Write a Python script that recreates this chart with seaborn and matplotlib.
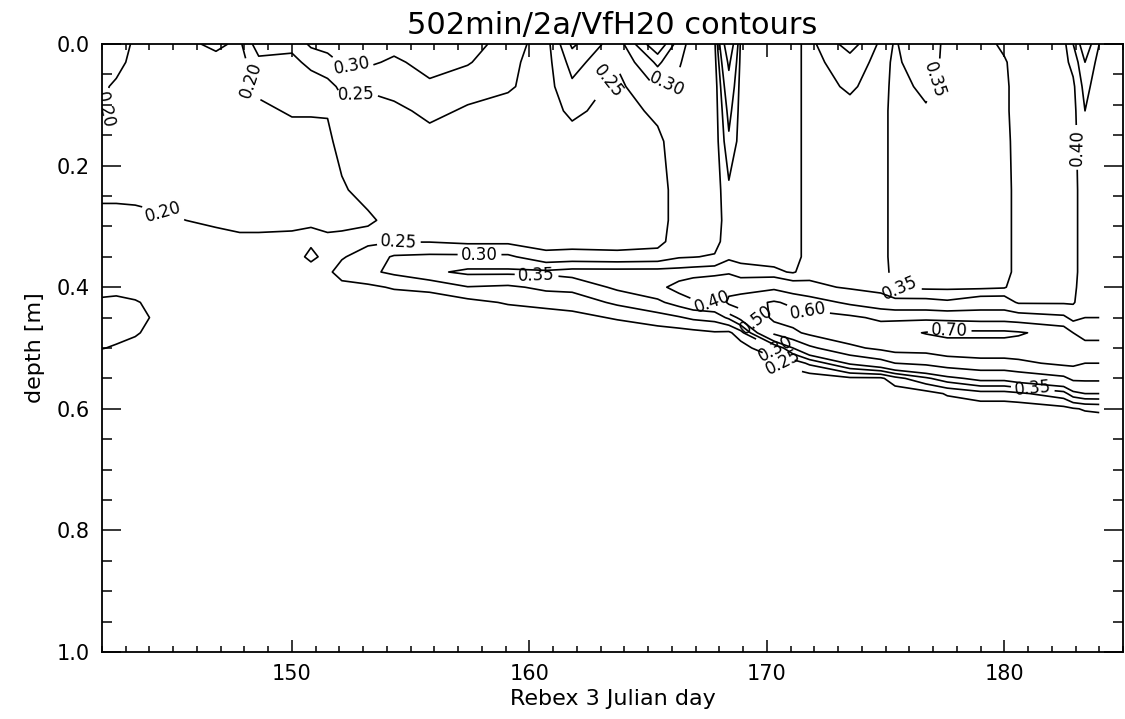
import numpy as np
import matplotlib
matplotlib.use("Agg")
import matplotlib.pyplot as plt
from matplotlib.ticker import MultipleLocator, FormatStrFormatter
import seaborn as sns

# --- data (VfH2O by day and depth) ---
depths = [0.00, 0.03, 0.07, 0.11, 0.16, 0.24, 0.29, 0.325, 0.35, 0.375, 0.40,
          0.425, 0.45, 0.475, 0.50, 0.525, 0.55, 0.575, 0.60, 0.625, 0.70, 1.00]

# early period: dry top layer, small wet lens at depth on the left edge
days_a = [142.0, 142.6, 143.4, 144.9, 146.8, 147.8, 148.6, 150.0, 150.8, 151.5]
profiles_a = [
    [0.24, 0.23, 0.21, 0.205, 0.19, 0.18, 0.225, 0.22, 0.22, 0.22, 0.23, 0.26, 0.27, 0.26, 0.252, 0.22, 0.22, 0.22, 0.22, 0.22, 0.22, 0.22],
    [0.23, 0.22, 0.19, 0.18, 0.18, 0.18, 0.225, 0.22, 0.22, 0.22, 0.23, 0.265, 0.275, 0.265, 0.245, 0.22, 0.22, 0.22, 0.22, 0.22, 0.22, 0.22],
    [0.19, 0.18, 0.18, 0.18, 0.18, 0.18, 0.22, 0.22, 0.22, 0.22, 0.225, 0.255, 0.27, 0.255, 0.235, 0.22, 0.22, 0.22, 0.22, 0.22, 0.22, 0.22],
    [0.18, 0.18, 0.18, 0.18, 0.18, 0.18, 0.205, 0.22, 0.22, 0.22, 0.22, 0.22, 0.22, 0.22, 0.22, 0.22, 0.22, 0.22, 0.22, 0.22, 0.22, 0.22],
    [0.21, 0.185, 0.18, 0.18, 0.18, 0.18, 0.19, 0.22, 0.22, 0.22, 0.22, 0.22, 0.22, 0.22, 0.22, 0.22, 0.22, 0.22, 0.22, 0.22, 0.22, 0.22],
    [0.19, 0.18, 0.18, 0.18, 0.18, 0.18, 0.18, 0.215, 0.22, 0.22, 0.22, 0.22, 0.22, 0.22, 0.22, 0.22, 0.22, 0.22, 0.22, 0.22, 0.22, 0.22],
    [0.28, 0.235, 0.21, 0.19, 0.18, 0.18, 0.18, 0.215, 0.22, 0.22, 0.22, 0.22, 0.22, 0.22, 0.22, 0.22, 0.22, 0.22, 0.22, 0.22, 0.22, 0.22],
    [0.26, 0.24, 0.225, 0.205, 0.18, 0.18, 0.18, 0.22, 0.22, 0.22, 0.22, 0.22, 0.22, 0.22, 0.22, 0.22, 0.22, 0.22, 0.22, 0.22, 0.22, 0.22],
    [0.31, 0.26, 0.23, 0.205, 0.18, 0.18, 0.18, 0.24, 0.265, 0.22, 0.22, 0.22, 0.22, 0.22, 0.22, 0.22, 0.22, 0.22, 0.22, 0.22, 0.22, 0.22],
    [0.32, 0.28, 0.235, 0.205, 0.185, 0.18, 0.18, 0.215, 0.23, 0.24, 0.22, 0.22, 0.22, 0.22, 0.22, 0.22, 0.22, 0.22, 0.22, 0.22, 0.22, 0.22],
]

# wetting front starts at ~0.35 m
days_b = [152.1, 153.2, 154.3, 155.8, 157.4, 159.1, 160.7, 161.8, 163.7, 165.4]
profiles_b = [
    [0.34, 0.305, 0.26, 0.235, 0.225, 0.19, 0.18, 0.22, 0.245, 0.27, 0.235, 0.22, 0.22, 0.22, 0.22, 0.22, 0.22, 0.22, 0.22, 0.22, 0.22, 0.22],
    [0.33, 0.31, 0.255, 0.235, 0.23, 0.23, 0.185, 0.24, 0.275, 0.29, 0.24, 0.22, 0.22, 0.22, 0.22, 0.22, 0.22, 0.22, 0.22, 0.22, 0.22, 0.22],
    [0.32, 0.29, 0.265, 0.24, 0.23, 0.23, 0.23, 0.248, 0.305, 0.31, 0.255, 0.22, 0.22, 0.22, 0.22, 0.22, 0.22, 0.22, 0.22, 0.22, 0.22, 0.22],
    [0.34, 0.32, 0.29, 0.26, 0.235, 0.23, 0.23, 0.248, 0.31, 0.34, 0.265, 0.22, 0.22, 0.22, 0.22, 0.22, 0.22, 0.22, 0.22, 0.22, 0.22, 0.22],
    [0.33, 0.305, 0.265, 0.245, 0.23, 0.23, 0.23, 0.24, 0.31, 0.36, 0.298, 0.235, 0.22, 0.22, 0.22, 0.22, 0.22, 0.22, 0.22, 0.22, 0.22, 0.22],
    [0.27, 0.26, 0.255, 0.235, 0.23, 0.23, 0.23, 0.24, 0.31, 0.36, 0.292, 0.255, 0.22, 0.22, 0.22, 0.22, 0.22, 0.22, 0.22, 0.22, 0.22, 0.22],
    [0.23, 0.23, 0.23, 0.23, 0.23, 0.23, 0.23, 0.23, 0.265, 0.36, 0.31, 0.27, 0.22, 0.22, 0.22, 0.22, 0.22, 0.22, 0.22, 0.22, 0.22, 0.22],
    [0.36, 0.32, 0.29, 0.26, 0.23, 0.23, 0.23, 0.23, 0.27, 0.37, 0.315, 0.27, 0.235, 0.22, 0.22, 0.22, 0.22, 0.22, 0.22, 0.22, 0.22, 0.22],
    [0.27, 0.255, 0.235, 0.23, 0.23, 0.23, 0.23, 0.23, 0.265, 0.37, 0.36, 0.31, 0.255, 0.22, 0.22, 0.22, 0.22, 0.22, 0.22, 0.22, 0.22, 0.22],
    [0.45, 0.36, 0.305, 0.26, 0.24, 0.23, 0.23, 0.235, 0.27, 0.37, 0.385, 0.34, 0.28, 0.225, 0.22, 0.22, 0.22, 0.22, 0.22, 0.22, 0.22, 0.22],
]

# front deepens and gets wetter
days_c = [166.3, 166.9, 167.8, 168.4, 168.9, 170.3, 171.1, 171.8, 173.5, 174.8]
profiles_c = [
    [0.32, 0.305, 0.29, 0.28, 0.275, 0.27, 0.27, 0.275, 0.295, 0.37, 0.42, 0.37, 0.295, 0.23, 0.22, 0.22, 0.22, 0.22, 0.22, 0.22, 0.22, 0.22],
    [0.28, 0.275, 0.27, 0.27, 0.27, 0.27, 0.27, 0.275, 0.298, 0.375, 0.44, 0.39, 0.31, 0.235, 0.22, 0.22, 0.22, 0.22, 0.22, 0.22, 0.22, 0.22],
    [0.29, 0.28, 0.27, 0.27, 0.27, 0.27, 0.27, 0.28, 0.305, 0.38, 0.46, 0.40, 0.32, 0.245, 0.22, 0.22, 0.22, 0.22, 0.22, 0.22, 0.22, 0.22],
    [0.60, 0.52, 0.46, 0.42, 0.39, 0.34, 0.33, 0.33, 0.34, 0.39, 0.47, 0.52, 0.36, 0.24, 0.22, 0.22, 0.22, 0.22, 0.22, 0.22, 0.22, 0.22],
    [0.34, 0.335, 0.33, 0.33, 0.33, 0.33, 0.33, 0.33, 0.335, 0.37, 0.45, 0.56, 0.42, 0.28, 0.225, 0.22, 0.22, 0.22, 0.22, 0.22, 0.22, 0.22],
    [0.33, 0.33, 0.33, 0.33, 0.33, 0.33, 0.33, 0.33, 0.33, 0.36, 0.48, 0.61, 0.63, 0.52, 0.30, 0.22, 0.22, 0.22, 0.22, 0.22, 0.22, 0.22],
    [0.33, 0.33, 0.33, 0.33, 0.33, 0.33, 0.33, 0.33, 0.33, 0.345, 0.44, 0.58, 0.64, 0.58, 0.40, 0.27, 0.22, 0.22, 0.22, 0.22, 0.22, 0.22],
    [0.37, 0.37, 0.37, 0.37, 0.37, 0.37, 0.37, 0.37, 0.37, 0.375, 0.42, 0.55, 0.64, 0.62, 0.48, 0.31, 0.22, 0.22, 0.22, 0.22, 0.22, 0.22],
    [0.55, 0.45, 0.41, 0.38, 0.37, 0.37, 0.37, 0.37, 0.37, 0.375, 0.39, 0.48, 0.62, 0.66, 0.58, 0.41, 0.24, 0.22, 0.22, 0.22, 0.22, 0.22],
    [0.38, 0.37, 0.37, 0.37, 0.37, 0.37, 0.37, 0.37, 0.37, 0.37, 0.375, 0.44, 0.58, 0.66, 0.62, 0.46, 0.24, 0.22, 0.22, 0.22, 0.22, 0.22],
]

# late period: wettest layer near 0.47 m
days_d = [175.4, 176.7, 177.6, 179.0, 180.0, 180.6, 182.5, 182.9, 183.4, 184.0]
profiles_d = [
    [0.345, 0.34, 0.335, 0.33, 0.33, 0.33, 0.33, 0.33, 0.33, 0.335, 0.345, 0.42, 0.58, 0.67, 0.64, 0.50, 0.28, 0.22, 0.22, 0.22, 0.22, 0.22],
    [0.395, 0.385, 0.36, 0.345, 0.33, 0.33, 0.33, 0.33, 0.33, 0.33, 0.34, 0.42, 0.58, 0.705, 0.64, 0.52, 0.34, 0.23, 0.22, 0.22, 0.22, 0.22],
    [0.33, 0.33, 0.33, 0.33, 0.33, 0.33, 0.33, 0.33, 0.33, 0.33, 0.34, 0.41, 0.57, 0.72, 0.66, 0.55, 0.38, 0.255, 0.22, 0.22, 0.22, 0.22],
    [0.33, 0.33, 0.33, 0.33, 0.33, 0.33, 0.33, 0.33, 0.33, 0.33, 0.34, 0.44, 0.56, 0.72, 0.66, 0.57, 0.42, 0.28, 0.22, 0.22, 0.22, 0.22],
    [0.36, 0.345, 0.34, 0.34, 0.335, 0.33, 0.33, 0.33, 0.33, 0.33, 0.345, 0.44, 0.56, 0.72, 0.66, 0.57, 0.42, 0.28, 0.22, 0.22, 0.22, 0.22],
    [0.37, 0.37, 0.37, 0.37, 0.37, 0.37, 0.37, 0.37, 0.37, 0.37, 0.38, 0.39, 0.55, 0.71, 0.66, 0.58, 0.44, 0.29, 0.22, 0.22, 0.22, 0.22],
    [0.37, 0.37, 0.37, 0.37, 0.37, 0.37, 0.37, 0.37, 0.37, 0.37, 0.38, 0.39, 0.52, 0.66, 0.698, 0.62, 0.48, 0.33, 0.235, 0.22, 0.22, 0.22],
    [0.50, 0.43, 0.38, 0.37, 0.37, 0.37, 0.37, 0.37, 0.37, 0.37, 0.38, 0.39, 0.47, 0.60, 0.66, 0.62, 0.52, 0.38, 0.245, 0.22, 0.22, 0.22],
    [0.68, 0.60, 0.54, 0.50, 0.47, 0.45, 0.45, 0.45, 0.45, 0.45, 0.45, 0.46, 0.50, 0.58, 0.62, 0.60, 0.52, 0.40, 0.255, 0.22, 0.22, 0.22],
    [0.50, 0.46, 0.43, 0.42, 0.41, 0.41, 0.41, 0.41, 0.42, 0.43, 0.44, 0.46, 0.50, 0.58, 0.62, 0.60, 0.52, 0.40, 0.26, 0.22, 0.22, 0.22],
]

levels = [0.20, 0.25, 0.30, 0.35, 0.40, 0.50, 0.60, 0.70]

# where the contour labels sit in the reference (day, depth)
label_spots = [
    (144.6, 0.275), (142.3, 0.11), (148.2, 0.06), (152.8, 0.105),
    (152.5, 0.048), (154.5, 0.334), (157.9, 0.346), (160.3, 0.387),
    (163.6, 0.07), (166.0, 0.075), (167.7, 0.42), (169.6, 0.452),
    (171.7, 0.447), (170.4, 0.50), (170.7, 0.52), (175.6, 0.405),
    (177.1, 0.06), (177.7, 0.477), (181.2, 0.567), (183.1, 0.17),
]


def draw_contours():
    sns.set_theme(style="ticks")
    plt.rcParams['font.family'] = ['DejaVu Sans']
    plt.rcParams['axes.linewidth'] = 1.3
    plt.rcParams['text.color'] = 'black'
    plt.rcParams['axes.labelcolor'] = 'black'

    days = days_a + days_b + days_c + days_d
    grid = np.array(profiles_a + profiles_b + profiles_c + profiles_d).T

    fig = plt.figure(figsize=(11.25, 7.19), dpi=100)
    ax = fig.add_axes([102 / 1125, 1 - 652 / 719, (1123 - 102) / 1125, (652 - 44) / 719])

    cs = ax.contour(days, depths, grid, levels=levels, colors='black', linewidths=1.2)
    ax.clabel(cs, fmt='%.2f', fontsize=12, inline=True, inline_spacing=4, manual=label_spots)

    ax.set_xlim(142, 185)
    ax.set_ylim(1.0, 0.0)
    ax.set_facecolor('white')

    # IDL style axes: ticks inside on all four sides
    ax.xaxis.set_major_locator(MultipleLocator(10))
    ax.xaxis.set_minor_locator(MultipleLocator(1))
    ax.yaxis.set_major_locator(MultipleLocator(0.2))
    ax.yaxis.set_minor_locator(MultipleLocator(0.05))
    ax.yaxis.set_major_formatter(FormatStrFormatter('%.1f'))
    ax.tick_params(axis='both', which='both', direction='in', top=True, right=True,
                   colors='black', labelsize=15, width=1.1)
    ax.tick_params(axis='x', which='major', length=9, pad=9)
    ax.tick_params(axis='x', which='minor', length=4.5)
    ax.tick_params(axis='y', which='major', length=14, pad=9)
    ax.tick_params(axis='y', which='minor', length=7)
    for side in ax.spines.values():
        side.set_color('black')

    ax.set_title('502min/2a/VfH20 contours', fontsize=22, pad=7, color='black')
    ax.set_xlabel('Rebex 3 Julian day', fontsize=16, labelpad=3)
    ax.set_ylabel('depth [m]', fontsize=16, labelpad=8)

    fig.savefig('out.png', dpi=100, facecolor='white')
    plt.close(fig)


if __name__ == "__main__":
    draw_contours()
